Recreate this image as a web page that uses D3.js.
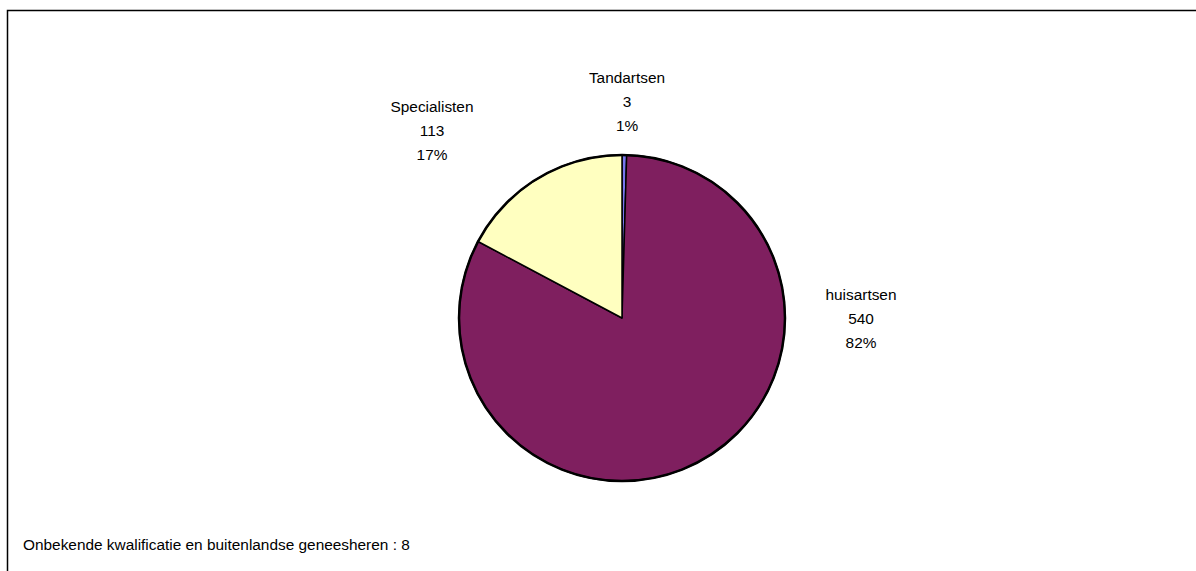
<!DOCTYPE html>
<html><head><meta charset="utf-8">
<script src="https://cdn.jsdelivr.net/npm/d3@7"></script>
<style>body{margin:0;background:#fff}svg{display:block}text{font-family:"Liberation Sans",Arial,sans-serif;font-size:15.4px;fill:#000}</style>
</head><body>
<script>
const categories = ["Tandartsen", "huisartsen", "Specialisten"];
const values = [3, 540, 113];
const percentLabels = ["1%", "82%", "17%"];
const colors = ["#7777ee", "#7f1f5f", "#ffffc0"];
const footnote = "Onbekende kwalificatie en buitenlandse geneesheren : 8";

const W = 1196, H = 571;
const svg = d3.select("body").append("svg").attr("width", W).attr("height", H);
svg.append("path").attr("d", `M7.5,${H} L7.5,10.5 L${W},10.5`).attr("fill","none").attr("stroke","#000").attr("stroke-width",1.5);

const cx = 622, cy = 318, r = 163;
const data = categories.map((c,i)=>({cat:c, value:values[i], pct:percentLabels[i], color:colors[i]}));
const pie = d3.pie().value(d=>d.value).sort(null);
const arc = d3.arc().innerRadius(0).outerRadius(r);
const g = svg.append("g").attr("transform",`translate(${cx},${cy})`);
const arcs = pie(data);
g.selectAll("path").data(arcs).join("path").attr("d",arc).attr("fill",d=>d.data.color).attr("stroke","#000").attr("stroke-width",1.5).attr("stroke-linejoin","round");
g.append("circle").attr("r",r).attr("fill","none").attr("stroke","#000").attr("stroke-width",2.5);

const labelPos = {"Tandartsen":[627,78], "huisartsen":[861,295], "Specialisten":[432,107]};
arcs.forEach(a=>{
  const [x,y] = labelPos[a.data.cat];
  const t = svg.append("text").attr("text-anchor","middle");
  [a.data.cat, String(a.data.value), a.data.pct].forEach((s,i)=>{
    t.append("tspan").attr("x",x).attr("y",y+i*24).attr("dy","0.35em").text(s);
  });
});
svg.append("text").attr("x",23).attr("y",545).attr("dy","0.35em").text(footnote);
</script>
</body></html>
